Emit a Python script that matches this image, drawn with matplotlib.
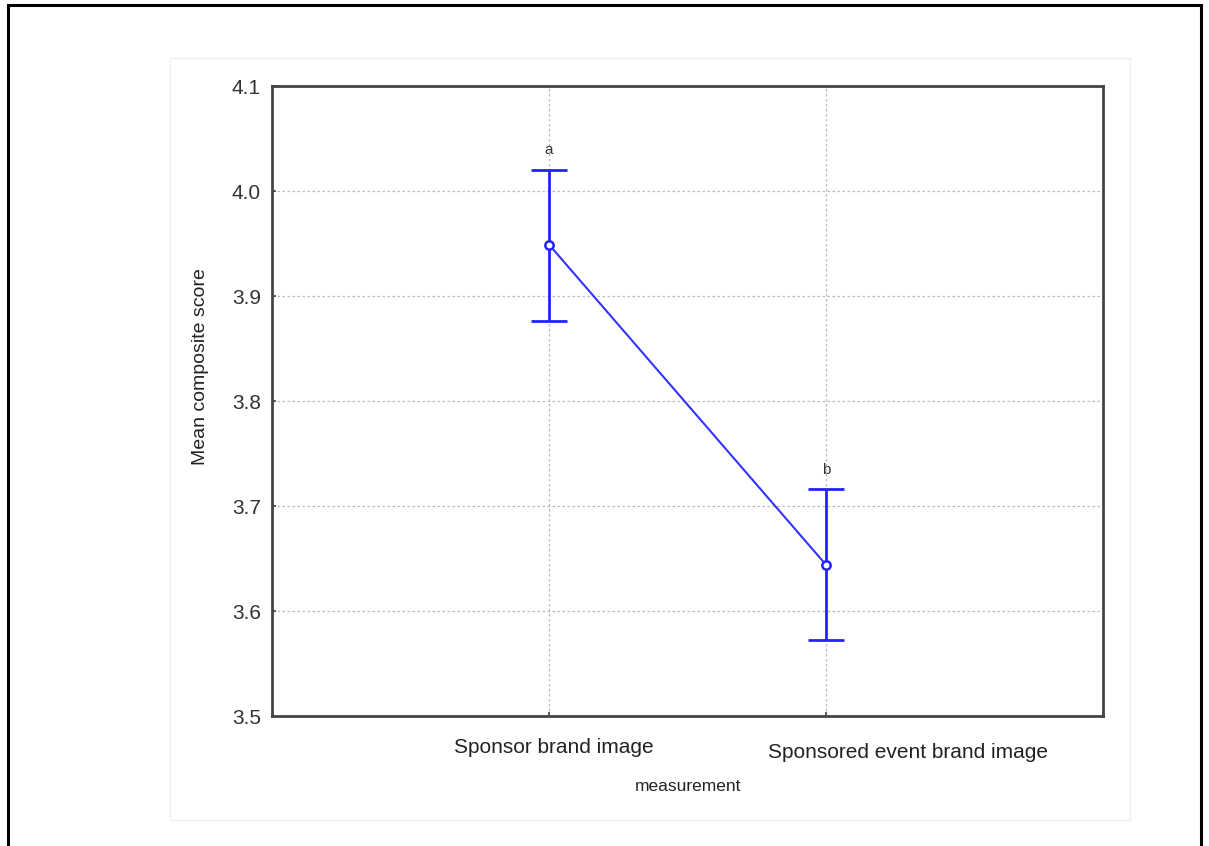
import matplotlib.pyplot as plt
from matplotlib.patches import Rectangle

plt.rcParams['font.family'] = ['Liberation Sans', 'DejaVu Sans']

categories = ['Sponsor brand image', 'Sponsored event brand image']
means = [3.949, 3.644]
upper = [4.020, 3.716]
lower = [3.876, 3.572]
letters = ['a', 'b']
yticks = [3.5, 3.6, 3.7, 3.8, 3.9, 4.0, 4.1]

xpos = [1, 2]
err_lo = [m - l for m, l in zip(means, lower)]
err_hi = [u - m for m, u in zip(means, upper)]

fig = plt.figure(figsize=(12.09, 8.46), dpi=100)
W, H = 1209, 846

# outer frame and faint panel
fig.patches.append(Rectangle((8 / W, -0.01), 1193 / W, 1 - 5 / H + 0.01, transform=fig.transFigure,
                             fill=False, edgecolor='black', linewidth=2.2))
fig.patches.append(Rectangle((170 / W, 1 - 820 / H), 960 / W, 762 / H, transform=fig.transFigure,
                             fill=False, edgecolor='#f0f0f0', linewidth=1))

ax = fig.add_axes([272 / W, 1 - 716 / H, 831 / W, 630 / H])

ax.errorbar(xpos, means, yerr=[err_lo, err_hi], fmt='none', ecolor='#2222ff',
            elinewidth=2, capsize=13, capthick=2, zorder=3)
ax.plot(xpos, means, color='#3333ff', linewidth=1.5, marker='o', markersize=6,
        markerfacecolor='white', markeredgecolor='#2222ff', markeredgewidth=1.8, zorder=4)

for x, u, t in zip(xpos, upper, letters):
    ax.text(x, u + 0.012, t, ha='center', va='bottom', fontsize=11, color='#333333')

ax.set_xlim(0, 3)
ax.set_ylim(3.5, 4.1)
ax.set_xticks(xpos)
ax.set_xticklabels(['', ''])
ax.set_yticks(yticks)
ax.set_yticklabels([f'{v:.1f}' for v in yticks], fontsize=15, color='#333333')
ax.tick_params(direction='in', length=3, width=1.2, colors='#444444', pad=8)
for lab in ax.get_yticklabels():
    lab.set_color('#333333')

# category labels (the second one sits a bit right of its tick, as in the original)
offsets = [(5, -31), (82, -36)]
for x, c, off in zip(xpos, categories, offsets):
    ax.annotate(c, xy=(x, 0), xycoords=('data', 'axes fraction'), xytext=off,
                textcoords='offset pixels', ha='center', va='center', fontsize=15,
                color='#222222')

ax.grid(True, color='#bbbbbb', linestyle=(0, (2, 2)), linewidth=0.9)
for s in ax.spines.values():
    s.set_color('#444444')
    s.set_linewidth(2)

ax.set_ylabel('Mean composite score', fontsize=14, color='#222222')
ax.yaxis.set_label_coords(-0.076, 0.554)
ax.set_xlabel('measurement', fontsize=12.5, color='#222222')
ax.xaxis.set_label_coords(0.5, -0.1)

fig.savefig('out.png', dpi=100)
